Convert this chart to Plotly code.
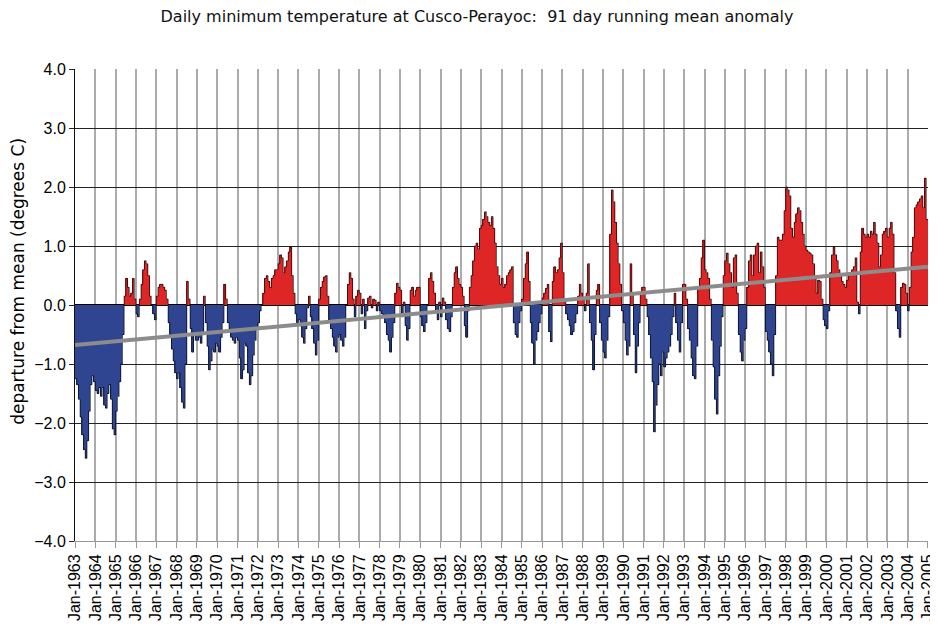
import plotly.graph_objects as go

# Monthly values of the 91-day running mean anomaly (deg C)
anom_1963_1969 = [
    -1.25, -1.35, -1.6, -1.9, -2.2, -2.45, -2.6, -2.3, -1.8, -1.35, -1.2, -1.3,   # 1963
    -1.45, -1.5, -1.4, -1.55, -1.4, -1.7, -1.75, -1.5, -1.35, -1.6, -2.1, -2.2,   # 1964
    -1.8, -1.55, -1.3, -1.0, -0.5, 0.15, 0.45, 0.3, 0.15, 0.2, 0.45, 0.1,         # 1965
    -0.15, -0.2, 0.1, 0.35, 0.6, 0.75, 0.7, 0.5, 0.15, 0.0, -0.15, -0.25,         # 1966
    0.15, 0.3, 0.35, 0.35, 0.3, 0.25, 0.1, -0.3, -0.5, -0.75, -0.95, -1.15,       # 1967
    -1.25, -1.15, -1.4, -1.65, -1.75, -1.0, 0.4, 0.1, -0.4, -0.8, -0.5, -0.6,     # 1968
    -0.6, -0.55, -0.65, -0.5, 0.15, -0.3, -0.7, -1.1, -0.95, -0.75, -0.8, -0.65,  # 1969
]
anom_1970_1979 = [
    -0.7, -0.8, -0.55, -0.3, 0.35, 0.1, -0.3, -0.45, -0.55, -0.6, -0.65, -0.55,   # 1970
    -0.6, -0.9, -1.25, -1.1, -0.65, -0.7, -1.15, -1.35, -1.2, -0.85, -0.6, -0.4,  # 1971
    -0.3, -0.1, 0.0, 0.2, 0.45, 0.5, 0.4, 0.3, 0.45, 0.5, 0.6, 0.6,               # 1972
    0.7, 0.85, 0.8, 0.55, 0.65, 0.75, 0.9, 0.98, 0.5, 0.2, -0.15, -0.3,           # 1973
    -0.25, -0.35, -0.55, -0.65, -0.4, -0.05, 0.15, -0.2, -0.4, -0.65, -0.85, -0.6,  # 1974
    0.1, 0.3, 0.4, 0.48, 0.5, 0.15, -0.25, -0.4, -0.55, -0.7, -0.8, -0.55,        # 1975
    -0.5, -0.6, -0.7, -0.55, 0.0, 0.35, 0.55, 0.45, 0.1, -0.2, 0.15, 0.25,        # 1976
    0.2, -0.15, 0.1, -0.4, -0.1, 0.12, 0.15, -0.05, 0.1, 0.08, -0.1, 0.05,        # 1977
    -0.1, -0.15, -0.2, -0.3, -0.5, -0.6, -0.8, -0.55, -0.3, 0.2, 0.37, 0.3,       # 1978
    0.25, -0.2, 0.05, -0.35, -0.6, -0.4, 0.25, 0.3, 0.15, 0.25, 0.3, 0.3,         # 1979
]
anom_1980_1989 = [
    -0.2, -0.35, -0.45, -0.3, 0.0, 0.45, 0.55, 0.4, 0.2, -0.1, -0.25, 0.05,       # 1980
    -0.2, 0.12, 0.05, -0.25, -0.4, -0.45, -0.2, 0.3, 0.55, 0.65, 0.45, 0.35,      # 1981
    0.3, 0.15, -0.35, -0.55, -0.1, 0.3, 0.5, 0.75, 1.0, 1.05, 0.95, 1.3,          # 1982
    1.35, 1.45, 1.58, 1.5, 1.4, 1.35, 1.5, 1.3, 1.05, 0.65, 0.5, 0.35,            # 1983
    0.45, 0.3, 0.35, 0.5, 0.55, 0.6, 0.65, -0.3, -0.5, -0.55, -0.3, -0.1,         # 1984
    0.1, 0.45, 0.7, 0.9, 0.4, -0.3, -0.65, -1.0, -0.6, -0.45, -0.3, -0.15,        # 1985
    0.12, 0.2, 0.28, 0.35, -0.45, -0.62, 0.4, 0.65, 0.55, 0.6, 0.8, 1.05,         # 1986
    0.55, 0.1, -0.15, -0.25, -0.35, -0.5, -0.45, -0.3, -0.15, 0.15, 0.35, 0.2,    # 1987
    0.1, -0.1, 0.2, 0.7, -0.3, -0.6, -1.1, -0.5, 0.25, 0.35, -0.3, -0.6,          # 1988
    -0.8, -0.9, -0.6, -0.2, 1.2, 1.95, 1.75, 1.4, 1.05, 0.7, 0.35, -0.1,          # 1989
]
anom_1990_1999 = [
    -0.3, -0.6, -0.85, -0.7, 0.7, 0.2, -0.5, -1.15, -0.7, -0.3, 0.2, 0.3,         # 1990
    0.3, 0.1, -0.2, -0.5, -0.9, -1.3, -2.15, -1.7, -1.35, -1.0, -1.2, -0.8,       # 1991
    -1.05, -0.9, -0.8, -0.7, -0.5, -0.2, 0.2, -0.3, -0.6, -0.8, -0.3, 0.35,       # 1992
    0.35, 0.1, -0.4, -0.6, -0.9, -1.2, -1.25, -0.7, 0.3, 0.45, 0.8, 1.1,          # 1993
    0.6, 0.55, 0.45, 0.1, -0.6, -1.05, -1.6, -1.85, -1.2, -0.7, -0.2, 0.5,        # 1994
    0.75, 0.88, 0.7, 0.55, 0.3, 0.8, 0.85, 0.2, -0.5, -0.8, -0.95, -0.6,          # 1995
    -0.4, 0.3, 0.75, 0.85, 0.5, 0.85, 1.0, 1.05, 0.55, 0.9, 0.65, 0.3,            # 1996
    -0.45, -0.6, -0.8, -1.0, -1.2, -0.5, 0.5, 1.15, 1.1, 1.1, 1.2, 1.6,           # 1997
    2.0, 1.95, 1.85, 1.3, 1.15, 1.4, 1.55, 1.65, 1.6, 1.4, 1.2, 1.0,              # 1998
    0.93, 0.9, 0.88, 0.85, 0.7, 0.5, 0.2, 0.42, 0.4, 0.1, -0.25, -0.35,           # 1999
]
anom_2000_2004 = [
    -0.4, -0.1, 0.55, 0.85, 0.98, 0.85, 0.75, 0.6, 0.5, 0.4, 0.35, 0.3,           # 2000
    0.42, 0.5, 0.55, 0.6, 0.65, 0.8, 0.05, -0.15, 0.9, 1.3, 1.2, 1.15,            # 2001
    1.2, 1.15, 1.25, 1.2, 1.4, 1.2, 1.05, 0.65, 0.85, 1.2, 1.25, 1.3,             # 2002
    1.15, 1.3, 1.4, 1.2, 0.55, -0.1, -0.4, -0.55, 0.3, 0.37, 0.35, 0.2,           # 2003
    -0.1, 0.3, 0.9, 1.15, 1.65, 1.7, 1.75, 1.8, 1.85, 1.65, 2.15, 1.45,           # 2004
]

start_year = 1963
end_year = 2005
tick_years = list(range(start_year, end_year + 1))
tick_labels = [f"Jan-{y}" for y in tick_years]

trend_x = [1963, 2005]
trend_y = [-0.68, 0.65]

title_text = "Daily minimum temperature at Cusco-Perayoc:  91 day running mean anomaly"
y_title = "departure from mean (degrees C)"

values = anom_1963_1969 + anom_1970_1979 + anom_1980_1989 + anom_1990_1999 + anom_2000_2004
n = len(values)
x_centers = [start_year + (i + 0.5) / 12 for i in range(n)]
x_edges = [start_year + i / 12 for i in range(n + 1)]

RED = "#de2626"
BLUE = "#2f4591"
colors = [RED if v >= 0 else BLUE for v in values]

# The page body adds an 8px offset, so the figure is 8px smaller than the window.
W, H = 930, 622
L, T = 67, 61
R = 10
B = H - (541.5 - 8)

fig = go.Figure()
fig.add_trace(go.Bar(
    x=x_centers, y=values, width=[1 / 12] * n,
    marker=dict(color=colors, line=dict(width=0)),
    hoverinfo="skip", showlegend=False,
))
fig.add_trace(go.Scatter(
    x=x_edges, y=values + [values[-1]], mode="lines",
    line=dict(color="rgba(0,0,0,0.85)", width=0.8, shape="hv"),
    hoverinfo="skip", showlegend=False,
))
fig.add_trace(go.Scatter(
    x=trend_x, y=trend_y, mode="lines",
    line=dict(color="#8c8c8c", width=4),
    hoverinfo="skip", showlegend=False,
))

fig.update_layout(
    width=W, height=H,
    margin=dict(l=L, r=R, t=T, b=B, autoexpand=False),
    paper_bgcolor="white", plot_bgcolor="white",
    bargap=0,
    font=dict(family="Liberation Sans, Arial, sans-serif", color="black"),
    title=dict(text=title_text, x=469 / W, xref="container", xanchor="center",
               y=1 - 8 / H, yref="container", yanchor="middle",
               font=dict(family="DejaVu Sans, Verdana, sans-serif", size=16, color="#111")),
    xaxis=dict(
        range=[start_year - 0.004, end_year + 0.004],
        tickmode="array", tickvals=tick_years, ticktext=tick_labels,
        tickangle=-90, tickfont=dict(size=16, family="Liberation Sans, Arial, sans-serif"),
        ticklabeloverflow="allow",
        showgrid=True, gridcolor="#ababab", gridwidth=2,
        ticks="outside", ticklen=6, tickcolor="#999", tickwidth=1,
        showline=True, linecolor="#999", linewidth=1, mirror=False,
        zeroline=False,
    ),
    yaxis=dict(
        range=[-4, 4], dtick=1, tick0=0, tickformat=".1f",
        tickfont=dict(size=16, family="Liberation Sans, Arial, sans-serif"),
        showgrid=True, gridcolor="#222", gridwidth=1,
        ticks="outside", ticklen=5, tickcolor="#222",
        showline=True, linecolor="#111", linewidth=1,
        zeroline=True, zerolinecolor="#000", zerolinewidth=2,
    ),
    annotations=[dict(
        text=y_title, textangle=-90, showarrow=False,
        xref="paper", yref="paper", x=(18 - 75) / (W - L - R), y=0.549,
        xanchor="center", yanchor="middle",
        font=dict(size=17, family="DejaVu Sans, Verdana, sans-serif", color="black"),
    )],
)

fig.write_html("out.html")
